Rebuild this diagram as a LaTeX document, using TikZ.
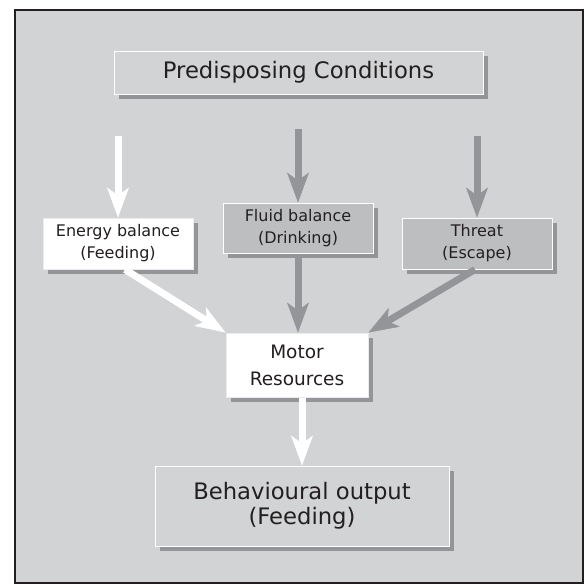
\documentclass[tikz,border=0pt]{standalone}
\usepackage{fontspec}
\setmainfont{DejaVu Sans}
\usetikzlibrary{arrows.meta,shadows}
\definecolor{bggrey}{HTML}{D1D3D4}
\definecolor{midgrey}{HTML}{BCBEC0}
\definecolor{shgrey}{HTML}{939598}
\definecolor{ink}{HTML}{231F20}

\begin{document}
\begin{tikzpicture}[x=1pt,y=-1pt,
    box/.style={draw=#1, line width=1pt, inner sep=0pt, align=center, text=ink,
      drop shadow={shadow xshift=5pt, shadow yshift=-5pt, fill=shgrey, opacity=1}},
    whitearrow/.style={draw=white, line width=7pt,
      -{Stealth[length=30pt,width=22pt,inset=8pt,line width=0.5pt,fill=white]}},
    greyarrow/.style={draw=shgrey, line width=7pt,
      -{Stealth[length=30pt,width=22pt,inset=8pt,line width=0.5pt,fill=shgrey]}}]
            \path[use as bounding box] (0,0) rectangle (584,584);
            \draw[ink, fill=bggrey, line width=1.5pt] (15,10) rectangle (583,583);

            \node[box=white, fill=bggrey, minimum width=369pt, minimum height=43pt,
                  font=\fontsize{22.7}{26}\selectfont] (pre) at (298.5,72.5) {Predisposing Conditions};
            \node[box=black!8, fill=white, minimum width=150pt, minimum height=51pt,
                  font=\fontsize{16}{22}\selectfont] (energy) at (118,243.5) {Energy balance\\(Feeding)};
            \node[box=white, fill=midgrey, minimum width=150pt, minimum height=50pt,
                  font=\fontsize{16}{22}\selectfont] (fluid) at (298,228) {Fluid balance\\(Drinking)};
            \node[box=white, fill=midgrey, minimum width=150pt, minimum height=51pt,
                  font=\fontsize{16}{22}\selectfont] (threat) at (477,243.5) {Threat\\(Escape)};
            \node[box=black!8, fill=white, minimum width=142pt, minimum height=64pt,
                  font=\fontsize{18.5}{27}\selectfont] (motor) at (297,365) {Motor\\Resources};
            \node[box=white, fill=bggrey, minimum width=294pt, minimum height=80pt,
                  font=\fontsize{22.7}{25}\selectfont] (output) at (302,506) {Behavioural output\\(Feeding)};

            \coordinate (e0) at (118,136);
            \coordinate (f0) at (298,129);
            \coordinate (t0) at (477,136);

            \draw[whitearrow] (e0) -- (energy.north);
            \draw[greyarrow] (f0) -- (fluid.north);
            \draw[greyarrow] (t0) -- (threat.north);
            \draw[whitearrow] ([xshift=7pt]energy.south) -- (motor.north west);
            \draw[greyarrow] (fluid.south) -- (fluid.south |- motor.north);
            \draw[greyarrow] ([xshift=-2pt]threat.south) -- (motor.north east);
            \draw[whitearrow] (motor.south -| output.north) -- (output.north);
        \end{tikzpicture}
\end{document}
